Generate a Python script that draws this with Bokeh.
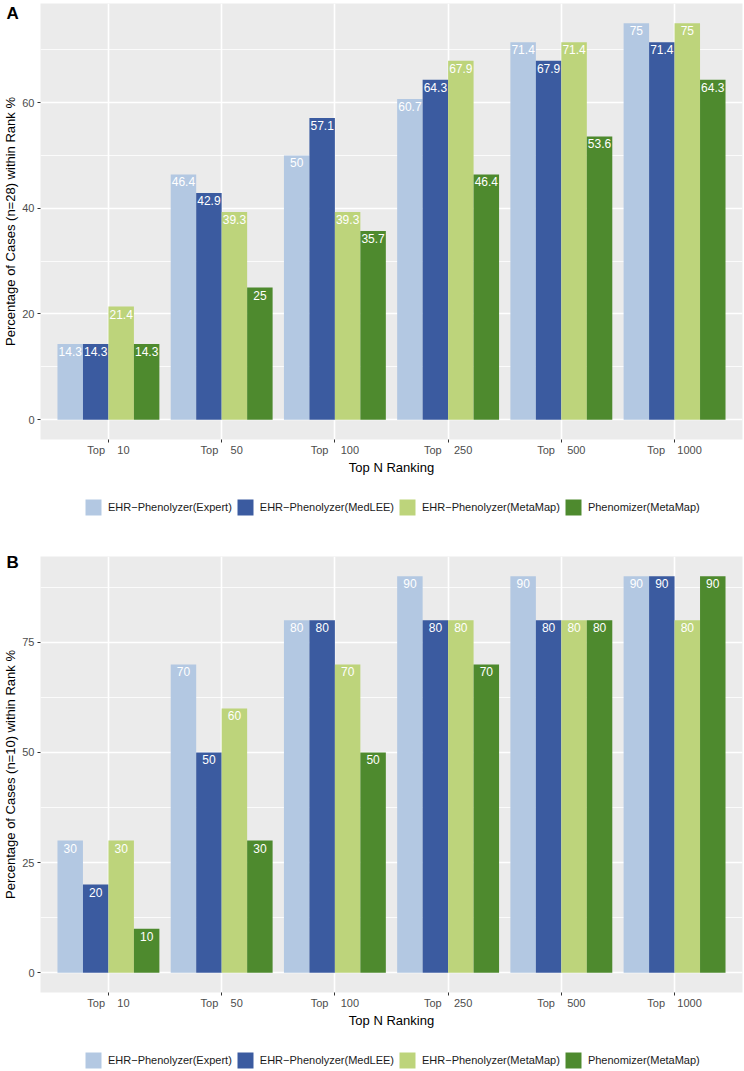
import numpy as np
from bokeh.plotting import figure
from bokeh.models import Range1d, FixedTicker, Legend, LegendItem
from bokeh.layouts import column
from bokeh.embed import file_html
from bokeh.resources import INLINE
from bokeh.core.properties import value

# ---------------- data ----------------
categories = ["10", "50", "100", "250", "500", "1000"]
series_names = ["EHR\u2212Phenolyzer(Expert)", "EHR\u2212Phenolyzer(MedLEE)",
                "EHR\u2212Phenolyzer(MetaMap)", "Phenomizer(MetaMap)"]
colors = ["#B3C8E2", "#3B5BA0", "#BDD47B", "#4E8A2E"]

# Panel A (n=28)
a_expert = [14.3, 46.4, 50, 60.7, 71.4, 75]
a_medlee = [14.3, 42.9, 57.1, 64.3, 67.9, 71.4]
a_metamap = [21.4, 39.3, 39.3, 67.9, 71.4, 75]
a_phenomizer = [14.3, 25, 35.7, 46.4, 53.6, 64.3]
a_yticks = [0, 20, 40, 60]
a_yminor = [10, 30, 50, 70]

# Panel B (n=10)
b_expert = [30, 70, 80, 90, 90, 90]
b_medlee = [20, 50, 80, 80, 80, 90]
b_metamap = [30, 60, 70, 80, 80, 80]
b_phenomizer = [10, 30, 50, 70, 80, 90]
b_yticks = [0, 25, 50, 75]
b_yminor = [12.5, 37.5, 62.5, 87.5]

FONT = "Liberation Sans"
NBSP = "\u00a0"
W = 744


def make_panel(letter, ylabel, series, yticks, yminor, height, title_standoff):
    n = len(categories)
    m = max(max(s) for s in series)
    p = figure(width=W, height=height,
               x_range=Range1d(0.4, n + 0.6),
               y_range=Range1d(-0.05 * m, 1.05 * m),
               output_backend="svg", toolbar_location=None,
               min_border_top=3, min_border_left=38,
               min_border_right=2, min_border_bottom=36)
    p.background_fill_color = "#EBEBEB"
    p.border_fill_color = "white"
    p.outline_line_color = None

    p.title.text = letter
    p.title.align = "left"
    p.title.offset = -34
    p.title.standoff = title_standoff
    p.title.text_font = FONT
    p.title.text_font_size = "17px"
    p.title.text_font_style = "bold"
    p.title.text_color = "black"

    centers = np.arange(1, n + 1)
    xt = FixedTicker(ticks=list(centers))
    p.xaxis.ticker = xt
    p.xgrid.ticker = xt
    yt = FixedTicker(ticks=yticks, minor_ticks=yminor)
    p.yaxis.ticker = yt
    p.ygrid.ticker = yt

    p.xgrid.grid_line_color = "white"
    p.xgrid.grid_line_width = 1.6
    p.ygrid.grid_line_color = "white"
    p.ygrid.grid_line_width = 1.6
    p.ygrid.minor_grid_line_color = "white"
    p.ygrid.minor_grid_line_width = 0.8

    p.xaxis.major_label_overrides = {
        int(c): "Top" + NBSP * 4 + cat for c, cat in zip(centers, categories)}

    for ax in (p.xaxis[0], p.yaxis[0]):
        ax.axis_line_color = None
        ax.major_tick_line_color = "#333333"
        ax.major_tick_out = 3
        ax.major_tick_in = 0
        ax.minor_tick_line_color = None
        ax.major_label_text_color = "#4D4D4D"
        ax.major_label_text_font = FONT
        ax.major_label_text_font_size = "11px"
        ax.axis_label_text_font = FONT
        ax.axis_label_text_font_size = "13px"
        ax.axis_label_text_font_style = "normal"
        ax.axis_label_text_color = "black"
        ax.major_label_standoff = 2
    p.xaxis.axis_label = "Top N Ranking"
    p.xaxis.axis_label_standoff = 1
    p.xaxis.major_label_standoff = 1
    p.yaxis.axis_label = ylabel
    p.yaxis.axis_label_standoff = 1

    bw = 0.9 / len(series)
    for i, (vals, col) in enumerate(zip(series, colors)):
        off = -0.45 + bw * (i + 0.5)
        xs = centers + off
        p.vbar(x=xs, top=vals, bottom=0, width=bw, fill_color=col,
               line_color=None)
        p.text(x=xs, y=vals, text=[f"{v:g}" for v in vals],
               text_color="white", text_font=value(FONT),
               text_font_size="12px", text_align="center",
               text_baseline="top", y_offset=3)
    return p


def make_legend(height, bottom_gap):
    lp = figure(width=W, height=height, output_backend="svg",
                toolbar_location=None, x_axis_type=None, y_axis_type=None,
                min_border=0, min_border_left=0, min_border_right=0,
                min_border_top=0, min_border_bottom=0,
                x_range=Range1d(0, 1), y_range=Range1d(0, 1))
    lp.outline_line_color = None
    lp.background_fill_color = "white"
    lp.border_fill_color = "white"
    items = []
    for name, col in zip(series_names, colors):
        # zero-size proxy bar: only its legend swatch is visible
        r = lp.vbar(x=[0], top=[0], bottom=0, width=0, fill_color=col,
                    line_color=None)
        items.append(LegendItem(label=name, renderers=[r]))
    legend = Legend(items=items, orientation="horizontal",
                    location=(43, bottom_gap),
                    glyph_width=20, glyph_height=20, label_standoff=5,
                    spacing=3, padding=0, margin=0,
                    border_line_color=None, background_fill_alpha=0,
                    label_text_font=FONT, label_text_font_size="11px",
                    label_text_color="#1A1A1A")
    lp.add_layout(legend, "center")
    return lp


pA = make_panel("A", "Percentage of Cases (n=28) within Rank %",
                [a_expert, a_medlee, a_metamap, a_phenomizer],
                a_yticks, a_yminor, 477, -38)
legA = make_legend(76, 36)
pB = make_panel("B", "Percentage of Cases (n=10) within Rank %",
                [b_expert, b_medlee, b_metamap, b_phenomizer],
                b_yticks, b_yminor, 477, -30)
legB = make_legend(41, 1)

layout = column(pA, legA, pB, legB)
open("out.html", "w").write(file_html(layout, INLINE))
